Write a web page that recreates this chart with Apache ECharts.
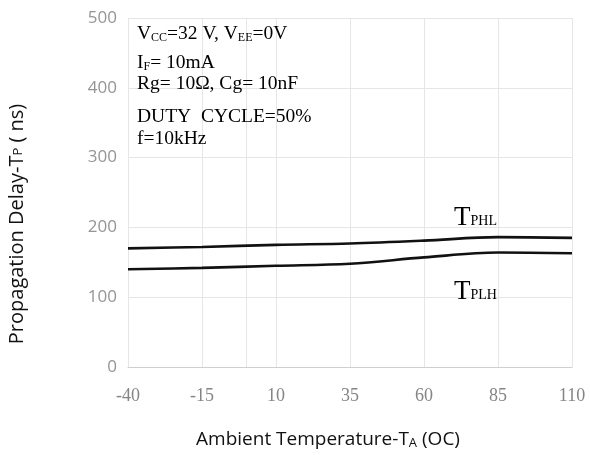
<!DOCTYPE html>
<html><head><meta charset="utf-8">
<script src="https://cdn.jsdelivr.net/npm/echarts@6/dist/echarts.min.js"></script>
<style>html,body{margin:0;padding:0;background:#fff}#c{width:590px;height:455px}</style>
</head><body><div id="c"></div>
<script>
const temps = [-40, -15, 10, 35, 60, 85, 110];
const tphl = [170, 172, 175, 177, 181, 186, 185];
const tplh = [140, 142, 145, 148, 157, 164, 163];
const yTicks = [0, 100, 200, 300, 400, 500];

const serif = 'Liberation Serif';
const sans = 'Open Sans';
const chart = echarts.init(document.getElementById('c'));
const nb = {fontFamily: serif, fontSize: 19.5, lineHeight: 19, color: '#111'};
const ns = {fontFamily: serif, fontSize: 12, lineHeight: 12, color: '#111', verticalAlign: 'bottom'};
const tb = {fontFamily: serif, fontSize: 27, lineHeight: 27, color: '#111'};
const ts = {fontFamily: serif, fontSize: 14, lineHeight: 14, color: '#111', verticalAlign: 'bottom', padding: [0,0,3,0]};
function txt(left, top, text) {
  return {type: 'text', left: left, top: top, z: 100, style: {text: text, rich: {n: nb, s: ns, b: tb, t: ts}}};
}
chart.setOption({
  animation: false,
  grid: {left: 128, right: 18, top: 18, bottom: 88},
  xAxis: {
    type: 'value', min: -40, max: 110, interval: 25,
    axisLine: {show: true, lineStyle: {color: '#cfcfcf', width: 1}},
    axisTick: {show: false},
    axisLabel: {color: '#858585', fontFamily: serif, fontSize: 18, margin: 20,
      formatter: v => temps.includes(v) ? String(v) : ''},
    splitLine: {show: true, lineStyle: {color: '#e6e6e6', width: 1}}
  },
  yAxis: {
    type: 'value', min: 0, max: 500, interval: 100,
    axisLine: {show: true, lineStyle: {color: '#e6e6e6'}},
    axisTick: {show: false},
    axisLabel: {color: '#959595', fontFamily: sans, fontSize: 17, margin: 11,
      formatter: v => yTicks.includes(v) ? String(v) : ''},
    splitLine: {show: true, lineStyle: {color: '#e6e6e6', width: 1}}
  },
  series: [
    {type: 'line', name: 'TPHL', data: temps.map((t,i)=>[t,tphl[i]]), smooth: 0.35,
      showSymbol: false, lineStyle: {color: '#111', width: 2.6}},
    {type: 'line', name: 'TPLH', data: temps.map((t,i)=>[t,tplh[i]]), smooth: 0.35,
      showSymbol: false, lineStyle: {color: '#111', width: 2.6}}
  ],
  graphic: [
    txt(137, 24, '{n|V}{s|CC}{n|=32 V, V}{s|EE}{n|=0V}'),
    txt(137, 53, '{n|I}{s|F}{n|= 10mA}'),
    txt(137, 74, '{n|Rg= 10Ω, Cg= 10nF}'),
    txt(137, 107, '{n|DUTY  CYCLE=50%}'),
    txt(137, 129, '{n|f=10kHz}'),
    txt(454, 204, '{b|T}{t|PHL}'),
    txt(454, 278, '{b|T}{t|PLH}'),
    {type: 'text', z: 100, x: 17, y: 224, rotation: Math.PI / 2, style: {
      text: 'Propagation Delay-T{s|P} ( ns)', font: '20px ' + sans, fill: '#111',
      align: 'center', verticalAlign: 'middle',
      rich: {s: {fontFamily: sans, fontSize: 13, color: '#111', verticalAlign: 'bottom', padding: [0,0,2,0]}}}},
    {type: 'text', z: 100, x: 328, y: 440, style: {
      text: 'Ambient Temperature-T{s|A} (OC)', font: '19px ' + sans, fill: '#111',
      align: 'center', verticalAlign: 'middle',
      rich: {s: {fontFamily: sans, fontSize: 13, color: '#111', verticalAlign: 'bottom'}}}}
  ]
});
</script></body></html>
